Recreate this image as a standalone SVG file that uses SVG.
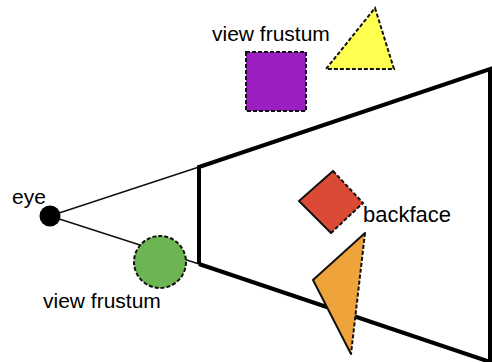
<svg xmlns="http://www.w3.org/2000/svg" width="492" height="362" viewBox="0 0 492 362">
<style>
.lbl{font-family:"Liberation Sans",Arial,sans-serif;font-size:21px;fill:#000}
.dash{stroke:#111;stroke-width:2;stroke-dasharray:4 2;fill:none}
.solid{stroke:#111;stroke-width:2;fill:none;stroke-linecap:round}
</style>
<rect width="492" height="362" fill="#fff"/>
<g id="connectors">
<line x1="50" y1="216" x2="199" y2="167" stroke="#111" stroke-width="1.5"/>
<line x1="50" y1="216" x2="199" y2="264" stroke="#111" stroke-width="1.5"/>
<polyline points="199,264 199,167 490,69 490,362 199,264" fill="none" stroke="#000" stroke-width="4" stroke-linejoin="miter"/>
</g>
<g id="eye">
<circle cx="50" cy="216" r="10.5" fill="#000"/>
<text class="lbl" x="12" y="204">eye</text>
</g>
<g id="green-circle">
<circle cx="160" cy="262" r="26" class="dash" style="fill:#6DB552"/>
<text class="lbl" x="43" y="308">view frustum</text>
</g>
<g id="purple-square">
<rect x="246" y="52" width="60" height="59" style="fill:#9B1FC0" class="dash"/>
<text class="lbl" x="212" y="41">view frustum</text>
</g>
<g id="yellow-triangle">
<polygon points="375,8 394,69 326,69" class="dash" style="fill:#FFFF4F"/>
</g>
<g id="red-diamond">
<polygon points="299,201 333,171 363,203 331,233" fill="#DB4A35"/>
<polyline points="333,171 299,201 331,233" class="solid"/>
<polyline points="333,171 363,203 331,233" class="dash"/>
<text class="lbl" x="363" y="222" style="font-size:22px">backface</text>
</g>
<g id="orange-triangle">
<polygon points="365,233 313,280 351,354" fill="#EFA33B"/>
<polyline points="365,233 313,280 351,354" class="solid"/>
<line x1="365" y1="233" x2="351" y2="354" class="dash"/>
</g>
</svg>
